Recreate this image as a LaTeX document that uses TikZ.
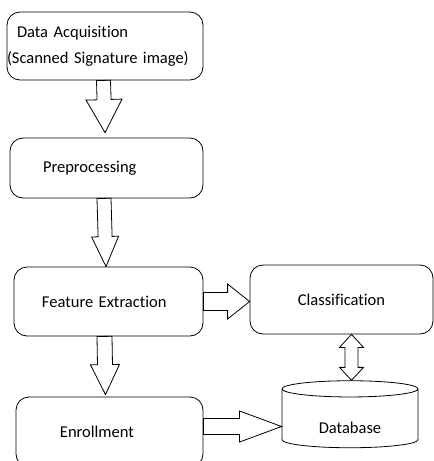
\documentclass[tikz,border=0pt]{standalone}
\usepackage{fontspec}
\setmainfont{Carlito}[RawFeature={-liga}]
\usetikzlibrary{calc, shapes.geometric}
\tikzset{
	stagebox/.style={draw, line width=0.8pt, rounded corners=13pt, inner sep=0pt, align=left,
			font=\fontsize{16.5}{26}\selectfont}
}
\tikzset{
	dbshape/.style={draw, line width=0.8pt, cylinder, shape border rotate=90, aspect=0.26,
			inner sep=0pt, font=\fontsize{16.5}{26}\selectfont}
}
\tikzset{
	blockarrow/.style n args={3}{
			draw, line width=0.8pt, line join=miter,
			to path={
					let \p1=(\tikztostart), \p2=(\tikztotarget),
					\n1={veclen(\x2-\x1,\y2-\y1)},
					\n2={(\x2-\x1)/\n1}, \n3={(\y2-\y1)/\n1},
					\n4={\n1-#3}
					in ({\x1-(\n3)*#1/2},{\y1+(\n2)*#1/2})
					-- ({\x1+(\n2)*\n4-(\n3)*#1/2},{\y1+(\n3)*\n4+(\n2)*#1/2})
					-- ({\x1+(\n2)*\n4-(\n3)*#2/2},{\y1+(\n3)*\n4+(\n2)*#2/2})
					-- (\p2)
					-- ({\x1+(\n2)*\n4+(\n3)*#2/2},{\y1+(\n3)*\n4-(\n2)*#2/2})
					-- ({\x1+(\n2)*\n4+(\n3)*#1/2},{\y1+(\n3)*\n4-(\n2)*#1/2})
					-- ({\x1+(\n3)*#1/2},{\y1-(\n2)*#1/2})
					-- cycle
				}
		}
}
\tikzset{
	dblockarrow/.style n args={3}{
			draw, line width=0.8pt, line join=miter,
			to path={
					let \p1=(\tikztostart), \p2=(\tikztotarget),
					\n1={veclen(\x2-\x1,\y2-\y1)},
					\n2={(\x2-\x1)/\n1}, \n3={(\y2-\y1)/\n1},
					\n4={\n1-#3}
					in (\p1)
					-- ({\x1+(\n2)*#3-(\n3)*#2/2},{\y1+(\n3)*#3+(\n2)*#2/2})
					-- ({\x1+(\n2)*#3-(\n3)*#1/2},{\y1+(\n3)*#3+(\n2)*#1/2})
					-- ({\x1+(\n2)*\n4-(\n3)*#1/2},{\y1+(\n3)*\n4+(\n2)*#1/2})
					-- ({\x1+(\n2)*\n4-(\n3)*#2/2},{\y1+(\n3)*\n4+(\n2)*#2/2})
					-- (\p2)
					-- ({\x1+(\n2)*\n4+(\n3)*#2/2},{\y1+(\n3)*\n4-(\n2)*#2/2})
					-- ({\x1+(\n2)*\n4+(\n3)*#1/2},{\y1+(\n3)*\n4-(\n2)*#1/2})
					-- ({\x1+(\n2)*#3+(\n3)*#1/2},{\y1+(\n3)*#3-(\n2)*#1/2})
					-- ({\x1+(\n2)*#3+(\n3)*#2/2},{\y1+(\n3)*#3-(\n2)*#2/2})
					-- cycle
				}
		}
}

\begin{document}
\begin{tikzpicture}[x=1pt, y=-1pt]

	\useasboundingbox (0,0) rectangle (434,461);

	\begin{scope}
		\node[stagebox, text width=196pt, minimum height=68pt] (acq) at (105,46)
		{\hspace*{10pt}Data Acquisition\\(Scanned Signature image)};
		\node[stagebox, text width=193pt, minimum height=60pt] (pre) at (106.5,168)
		{\hspace*{33pt}Preprocessing};
		\node[stagebox, text width=189pt, minimum height=69pt] (fx) at (108.5,301.5)
		{\hspace*{28pt}Feature Extraction};
		\node[stagebox, text width=183pt, minimum height=69pt, align=center] (cls) at (341.5,299.5)
		{Classification};
		\node[stagebox, text width=187pt, minimum height=70pt] (enr) at (109.5,432)
		{\hspace*{44pt}Enrollment};
		\node[dbshape, minimum width=136pt, minimum height=67pt] (db) at (350,418.5)
		{\raisebox{-15pt}[0pt][0pt]{Database}};
	\end{scope}

	\begin{scope}
		\draw[blockarrow={14}{36}{33}] ([xshift=-1.5pt]acq.south) to ([xshift=-1.5pt, yshift=5pt]pre.north);
		\draw[blockarrow={14}{27}{30}] ([xshift=-2.5pt]pre.south) to ([xshift=-2.5pt]fx.north);
		\draw[blockarrow={15}{29}{30}] ([xshift=-4pt]fx.south) to ([xshift=-4pt, yshift=2pt]enr.north);
		\draw[blockarrow={18}{35}{22}] (fx.east) to (fx.east -| cls.west);
		\draw[blockarrow={16}{31}{42}] (enr.east |- db.west) ++(0,8) to ([yshift=-8pt]db.west);
		\draw[dblockarrow={13}{24}{13}] ([xshift=10pt]cls.south) to ([xshift=10pt]cls.south |- db.north);
	\end{scope}

\end{tikzpicture}
\end{document}
